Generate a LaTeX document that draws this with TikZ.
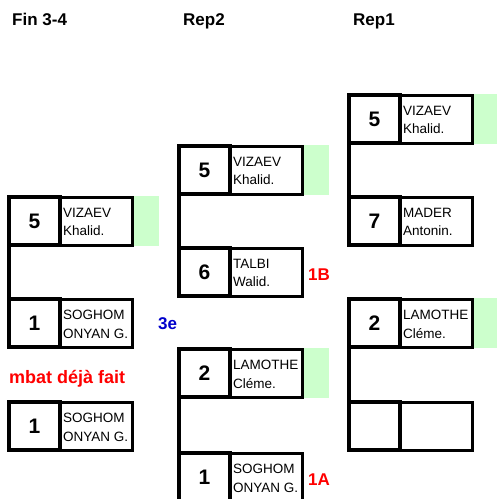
\documentclass[tikz,border=0pt]{standalone}
\usepackage{fontspec}
\setmainfont{Liberation Sans}
\definecolor{lightgreen}{RGB}{204,255,204}
\definecolor{labred}{RGB}{255,0,0}
\definecolor{labblue}{RGB}{0,0,204}
\tikzset{
  numbox/.style={draw, line width=4.5pt, outer sep=0pt, inner sep=0pt,
    minimum width=51pt, minimum height=48pt,
    font=\bfseries\fontsize{21}{21}\selectfont},
  namebox/.style={draw, line width=3pt, outer sep=0pt, inner sep=0pt,
    minimum width=72pt, minimum height=48pt},
  nametext/.style={anchor=north west, inner sep=0pt, align=left,
    font=\fontsize{13.5}{18.5}\selectfont},
  greenbox/.style={fill=lightgreen, draw=none},
  link/.style={line width=3.5pt},
  title/.style={anchor=base west, inner sep=0pt, font=\bfseries\fontsize{17}{17}\selectfont},
  redlab/.style={anchor=base west, inner sep=0pt, text=labred, font=\bfseries\fontsize{17}{17}\selectfont},
}
% #1 id, #2 X, #3 Y, #4 number, #5 name text, #6 green (1) or not (0)
\newcommand\mkentry[6]{%
  \ifnum#6=1
    \fill[lightgreen] ({#2+127},{#3+1}) rectangle ({#2+153},{#3+51});
  \fi
  \node[namebox] (#1m) at ({#2+90},{#3+26}) {};
  \node[nametext] (#1t) at ({#2+57},{#3+13}) {#5};
  \node[numbox] (#1) at ({#2+28.5},{#3+26}) {#4};
}
\begin{document}
\begin{tikzpicture}[x=1pt,y=-1pt]
\useasboundingbox (0,0) rectangle (497,499);
\clip (0,0) rectangle (497,499);
\fill[white] (0,0) rectangle (497,499);

% titles
\node[title] (t1) at (12,25) {Fin 3-4};
\node[title] (t2) at (183,25) {Rep2};
\node[title] (t3) at (353,25) {Rep1};

% column 1
\mkentry{a1}{6}{195}{5}{VIZAEV\\Khalid.}{1}
\mkentry{a2}{6}{297}{1}{SOGHOM\\ONYAN G.}{0}
\mkentry{a3}{6}{400}{1}{SOGHOM\\ONYAN G.}{0}
\draw[link] (a1.south west) -- (a2.north west);

% column 2
\mkentry{b1}{176}{144}{5}{VIZAEV\\Khalid.}{1}
\mkentry{b2}{176}{246}{6}{TALBI\\Walid.}{0}
\mkentry{b3}{176}{347}{2}{LAMOTHE\\Cléme.}{1}
\mkentry{b4}{176}{451}{1}{SOGHOM\\ONYAN G.}{0}
\draw[link] (b1.south west) -- (b2.north west);
\draw[link] (b3.south west) -- (b4.north west);

% column 3
\mkentry{c1}{346}{93}{5}{VIZAEV\\Khalid.}{1}
\mkentry{c2}{346}{195}{7}{MADER\\Antonin.}{0}
\mkentry{c3}{346}{297}{2}{LAMOTHE\\Cléme.}{1}
\mkentry{c4}{346}{400}{}{}{0}
\draw[link] (c1.south west) -- (c2.north west);
\draw[link] (c3.south west) -- (c4.north west);

% labels
\node[redlab, font=\bfseries\fontsize{18}{18}\selectfont] (l1) at (9,383) {mbat déjà fait};
\node[anchor=base west, inner sep=0pt, text=labblue, font=\bfseries\fontsize{17}{17}\selectfont] (l2) at (158,329) {3e};
\node[redlab] (l3) at (308,280) {1B};
\node[redlab] (l4) at (308,485) {1A};
\end{tikzpicture}
\end{document}
